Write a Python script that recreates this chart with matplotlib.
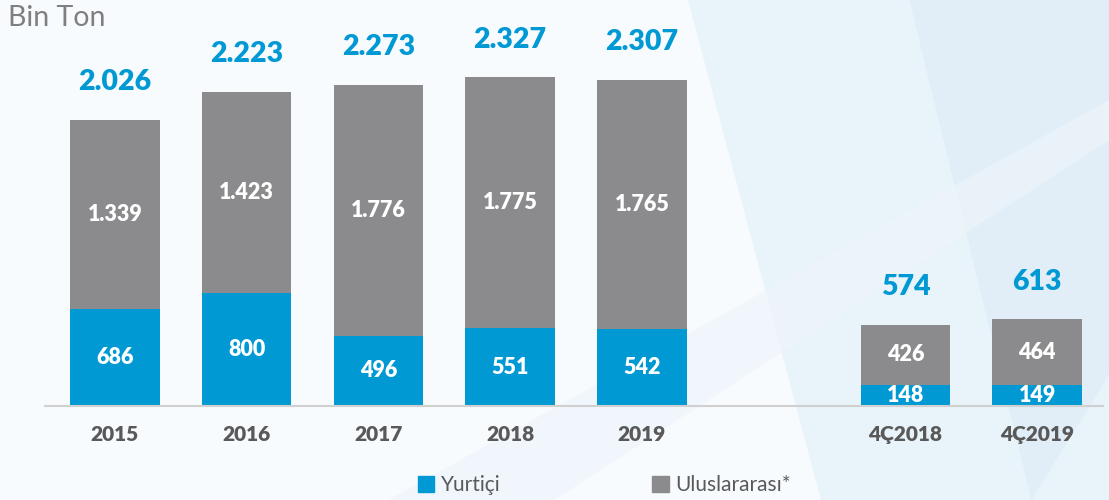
import numpy as np
import matplotlib.pyplot as plt
from matplotlib.patches import Polygon, Patch

plt.rcParams['font.family'] = ['Lato', 'DejaVu Sans']

# Veriler (Bin Ton)
donemler = ['2015', '2016', '2017', '2018', '2019', '4Ç2018', '4Ç2019']
yurtici = [686, 800, 496, 551, 542, 148, 149]
uluslararasi = [1339, 1423, 1776, 1775, 1765, 426, 464]
toplam_etiket = ['2.026', '2.223', '2.273', '2.327', '2.307', '574', '613']
ulus_etiket = ['1.339', '1.423', '1.776', '1.775', '1.765', '426', '464']
yurt_etiket = ['686', '800', '496', '551', '542', '148', '149']
konum = [0, 1, 2, 3, 4, 6, 7]

mavi = '#0099d3'
gri = '#8b8b8d'
yazi_gri = '#595959'

fig = plt.figure(figsize=(11.09, 5.0), dpi=100)
fig.patch.set_facecolor('#f8fbfe')

# arka plan dekoru (cok hafif mavi)
bg = fig.add_axes([0, 0, 1, 1], zorder=0)
bg.set_xlim(0, 1)
bg.set_ylim(0, 1)
bg.axis('off')
bg.add_patch(Polygon([(0.62, 1), (1, 1), (1, 0), (0.74, 0)], closed=True,
                     color='#e6f1f9', alpha=0.8, lw=0))
bg.add_patch(Polygon([(0.82, 1), (1, 1), (1, 0.25), (0.93, 0)], closed=True,
                     color='#dcebf6', alpha=0.6, lw=0))
bg.add_patch(Polygon([(0.35, 0), (0.5, 0), (1, 0.72), (1, 0.8)], closed=True,
                     color='#eef5fb', alpha=0.7, lw=0))

ax = fig.add_axes([0.0406, 0.188, 0.954, 0.812], zorder=1)
ax.patch.set_alpha(0)

alt = ax.bar(konum, yurtici, width=0.68, color=mavi, zorder=2)
ust = ax.bar(konum, uluslararasi, width=0.68, bottom=yurtici, color=gri, zorder=2)

for i, x in enumerate(konum):
    y0 = yurtici[i]
    y1 = yurtici[i] + uluslararasi[i]
    ax.text(x, y0 / 2, yurt_etiket[i], ha='center', va='center',
            color='white', fontsize=15.5, fontweight='heavy', zorder=3)
    ax.text(x, y0 + uluslararasi[i] / 2, ulus_etiket[i], ha='center', va='center',
            color='white', fontsize=15.5, fontweight='heavy', zorder=3)
    ax.annotate(toplam_etiket[i], (x, y1), xytext=(0, 27), textcoords='offset points',
                ha='center', va='center', color=mavi, fontsize=20.5, fontweight='heavy')

ax.set_xlim(-0.53, 7.5)
ax.set_ylim(0, 2873)
ax.set_xticks(konum)
ax.set_xticklabels(donemler, fontsize=15, fontweight='heavy', color=yazi_gri)
ax.tick_params(axis='x', length=0, pad=14)
ax.set_yticks([])
for s in ['top', 'right', 'left']:
    ax.spines[s].set_visible(False)
ax.spines['bottom'].set_color('#d0d0d0')
ax.spines['bottom'].set_linewidth(1.5)

fig.text(0.007, 0.964, 'Bin Ton', fontsize=20.5, color='#7f7f7f', va='center', ha='left')

fig.legend(handles=[Patch(color=mavi, label='Yurtiçi'),
                    Patch(color=gri, label='Uluslararası*'),],
           loc='center', bbox_to_anchor=(0.545, 0.03), ncol=2, frameon=False,
           fontsize=15, handlelength=0.8, handleheight=0.8, handletextpad=0.3,
           columnspacing=7.3, labelcolor=yazi_gri)

fig.savefig('out.png', dpi=100, facecolor=fig.get_facecolor())
